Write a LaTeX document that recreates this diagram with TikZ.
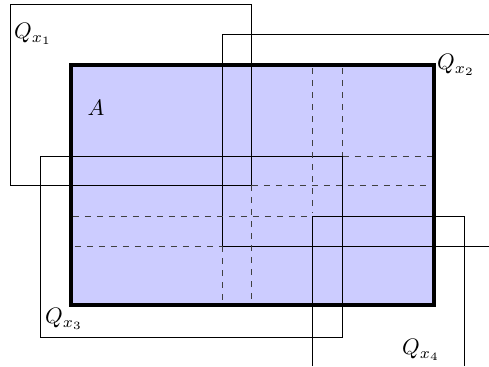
\documentclass[tikz,border=0pt]{standalone}
\begin{document}
\begin{tikzpicture}[x=0.5pt,y=-0.5pt,
  qbox/.style={draw=black, line width=0.5pt},
  hid/.style={draw=black!75, dashed, line width=0.5pt},
  lab/.style={inner sep=0pt, scale=1.12}]
\useasboundingbox (0,0) rectangle (489,366);
% set A
\fill[blue!20] (71,65) rectangle (434,305);
% squares
\draw[qbox] (11,4) rectangle (252,185);
\draw[qbox] (489,34) -- (223,34) -- (223,246) -- (489,246);
\draw[qbox] (41,156) rectangle (343,337);
\draw[qbox] (313,366) -- (313,216) -- (465,216) -- (465,366);
% hidden (dashed) parts
\draw[hid] (313,68) -- (313,213);
\draw[hid] (343,68) -- (343,156);
\draw[hid] (343,156) -- (432,156);
\draw[hid] (252,185) -- (432,185);
\draw[hid] (252,185) -- (252,303);
\draw[hid] (73,216) -- (313,216);
\draw[hid] (75,246) -- (223,246);
\draw[hid] (223,246) -- (223,303);
% border of A
\draw[line width=1.6pt] (71,65) rectangle (434,305);
% labels
\node[lab] (qx1) at (33,34) {$Q_{x_1}$};
\node[lab] (a) at (96,108) {$A$};
\node[lab] (qx2) at (456,65) {$Q_{x_2}$};
\node[lab] (qx3) at (64,319) {$Q_{x_3}$};
\node[lab] (qx4) at (421,350) {$Q_{x_4}$};
\end{tikzpicture}
\end{document}
